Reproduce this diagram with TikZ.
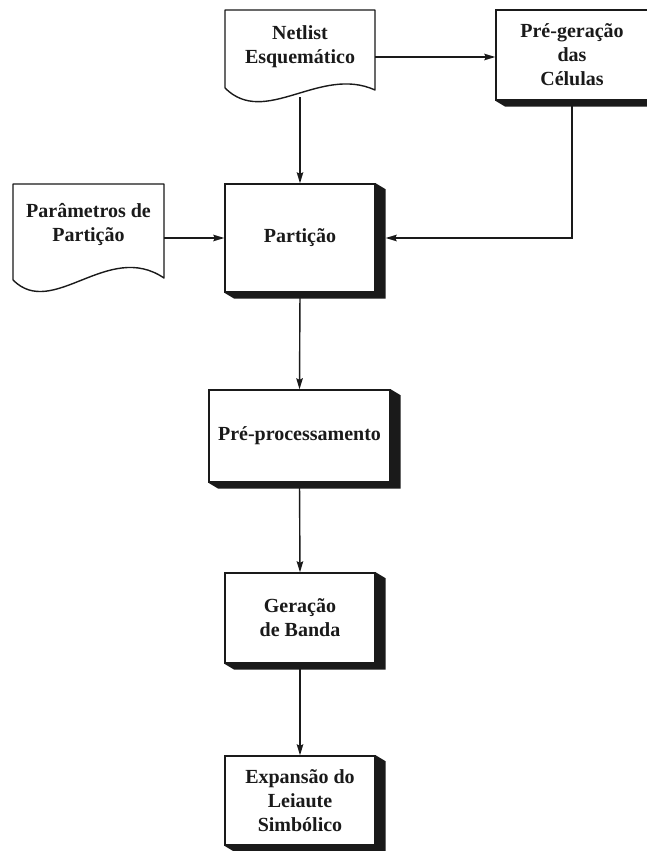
\documentclass[tikz,border=0pt]{standalone}
\usepackage{fontspec}
\setmainfont{Liberation Serif}
\usetikzlibrary{arrows.meta,calc}
\definecolor{ink}{HTML}{1A1A1A}
\tikzset{
  lbl/.style={font=\fontsize{20}{24}\selectfont\bfseries, text=ink, align=center},
  procbox/.style={lbl, draw=ink, line width=1.4pt, fill=white, inner sep=4pt},
  doctext/.style={lbl, inner sep=0pt},
  docline/.style={draw=ink, line width=1.4pt, line join=round},
  arr/.style={draw=ink, line width=1.4pt, -{Stealth[length=11pt,width=6.5pt,inset=1.5pt]}},
  wire/.style={draw=ink, line width=1.4pt}
}
\newcommand\dropshade[1]{%
  \fill[ink] (#1.north east) -- ++(10,6) -- ($(#1.south east)+(10,6)$) --
    ($(#1.south west)+(10,6)$) -- (#1.south west) -- (#1.south east) -- cycle;}
\begin{document}
\begin{tikzpicture}[x=1pt,y=-1pt]
\clip (0,0) rectangle (647,851);
\fill[white] (0,0) rectangle (647,851);

% document shapes
\draw[docline] (225,88) -- (225,10) -- (375,10) -- (375,90)
  .. controls (320,65) and (265,128) .. (225,88);
\draw[docline] (13,280) -- (13,184) -- (164,184) -- (164,278)
  .. controls (108,240) and (53,320) .. (13,280);

\node[doctext, minimum width=150pt] (netlist) at (300,47) {Netlist\\Esquemático};
\node[doctext, minimum width=151pt] (param) at (88.5,225) {Parâmetros de\\Partição};
\coordinate (netbot) at (300,97);

% process boxes
\node[procbox, minimum width=152pt, minimum height=90pt] (pregen) at (572,55) {Pré-geração\\das\\Células};
\node[procbox, minimum width=150pt, minimum height=108pt] (part) at (300,238) {Partição};
\node[procbox, minimum width=181pt, minimum height=92pt] (prep) at (299.5,436) {Pré-processamento};
\node[procbox, minimum width=150pt, minimum height=90pt] (gera) at (300,618) {Geração\\de Banda};
\node[procbox, minimum width=150pt, minimum height=89pt] (expa) at (300,800.5) {Expansão do\\Leiaute\\Simbólico};

% connectors
\draw[arr] (netlist.east |- 0,57) -- (pregen.west |- 0,57);
\draw[arr] (netbot) -- (part.north);
\draw[arr] (param.east |- part.west) -- (part.west);
\draw[arr] (pregen.south) |- ($(part.east)+(10,0)$);
\draw[arr] (part.south) -- (prep.north);
\draw[arr] (prep.south) -- (gera.north);
\draw[arr] (gera.south) -- (expa.north);

% shadows
\dropshade{pregen}
\dropshade{part}
\dropshade{prep}
\dropshade{gera}
\dropshade{expa}
\end{tikzpicture}
\end{document}
